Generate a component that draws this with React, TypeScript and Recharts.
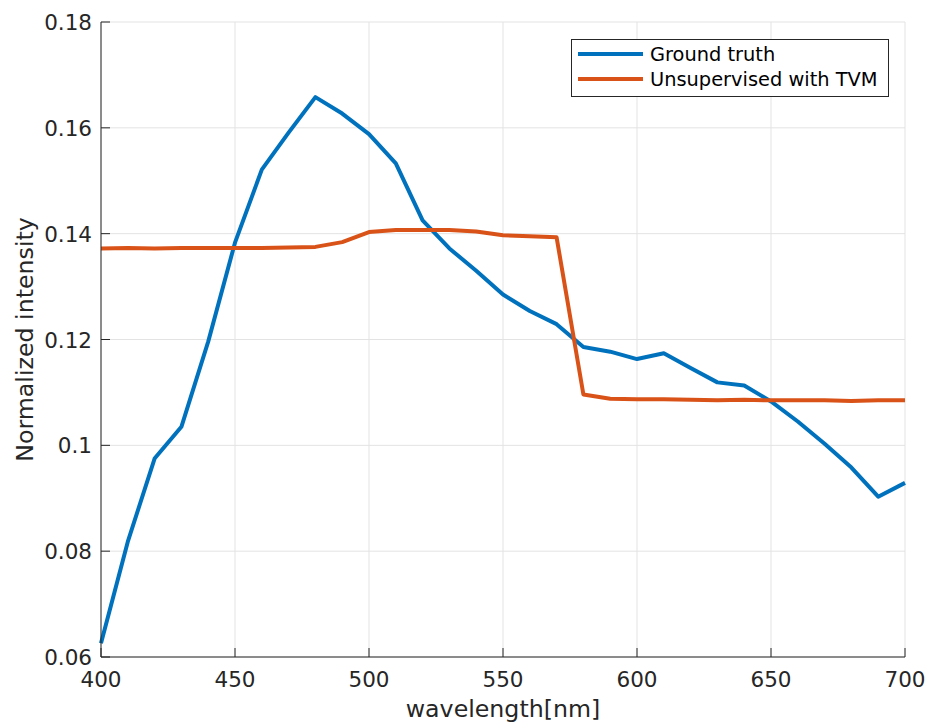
import React from 'react';
import { LineChart, Line, XAxis, YAxis, CartesianGrid, Legend } from 'recharts';

const wavelengths = [400, 410, 420, 430, 440, 450, 460, 470, 480, 490, 500, 510, 520, 530, 540, 550, 560, 570, 580, 590, 600, 610, 620, 630, 640, 650, 660, 670, 680, 690, 700];
const groundTruth = [0.0626, 0.0818, 0.0975, 0.1035, 0.1196, 0.1383, 0.1521, 0.1591, 0.1658, 0.1627, 0.1588, 0.1533, 0.1425, 0.1372, 0.1330, 0.1285, 0.1254, 0.1229, 0.1186, 0.1177, 0.1163, 0.1174, 0.1146, 0.1119, 0.1113, 0.1083, 0.1045, 0.1003, 0.0958, 0.0903, 0.0929];
const unsupervisedTVM = [0.1372, 0.1373, 0.1372, 0.1373, 0.1373, 0.1373, 0.1373, 0.1374, 0.1375, 0.1384, 0.1403, 0.1407, 0.1407, 0.1407, 0.1404, 0.1397, 0.1395, 0.1393, 0.1096, 0.1088, 0.1087, 0.1087, 0.1086, 0.1085, 0.1086, 0.1085, 0.1085, 0.1085, 0.1084, 0.1085, 0.1085];
const xTicks = [400, 450, 500, 550, 600, 650, 700];
const yTicks = [0.06, 0.08, 0.1, 0.12, 0.14, 0.16, 0.18];
const yTickLabels = ['0.06', '0.08', '0.1', '0.12', '0.14', '0.16', '0.18'];
const seriesNames = ['Ground truth', 'Unsupervised with TVM'];

const data = wavelengths.map((w, i) => ({ w, gt: groundTruth[i], tvm: unsupervisedTVM[i] }));

const FONT = 'DejaVu Sans';
const AX = '#262626';
const TICK = 9;

const BottomTick = (props: any) => {
  const { x, y, payload } = props;
  return (
    <g>
      <line x1={x} x2={x} y1={y} y2={y - TICK} stroke={AX} strokeWidth={1} />
      <text x={x} y={y + 30} textAnchor="middle" fontFamily={FONT} fontSize={21.5} fill={AX}>{payload.value}</text>
    </g>
  );
};
const TopTick = (props: any) => {
  const { x, y } = props;
  return <line x1={x} x2={x} y1={y} y2={y + TICK} stroke={AX} strokeWidth={1} />;
};
const LeftTick = (props: any) => {
  const { x, y, payload } = props;
  const idx = yTicks.findIndex((t) => Math.abs(t - payload.value) < 1e-9);
  return (
    <g>
      <line x1={x} x2={x + TICK} y1={y} y2={y} stroke={AX} strokeWidth={1} />
      <text x={x - 9} y={y + 8} textAnchor="end" fontFamily={FONT} fontSize={21.5} fill={AX}>{idx >= 0 ? yTickLabels[idx] : payload.value}</text>
    </g>
  );
};
const RightTick = (props: any) => {
  const { x, y } = props;
  return <line x1={x} x2={x - TICK} y1={y} y2={y} stroke={AX} strokeWidth={1} />;
};

const LegendBox = () => (
  <svg width={318} height={58} style={{ display: 'block' }}>
    <rect x={0.5} y={0.5} width={317} height={57} fill="#fff" stroke={AX} strokeWidth={1} />
    <line x1={7} x2={72} y1={15} y2={15} stroke="#0072BD" strokeWidth={4} />
    <text x={79} y={22} fontFamily={FONT} fontSize={19.4} fill="#000">{seriesNames[0]}</text>
    <line x1={7} x2={72} y1={40} y2={40} stroke="#D95319" strokeWidth={4} />
    <text x={79} y={47} fontFamily={FONT} fontSize={19.4} fill="#000">{seriesNames[1]}</text>
  </svg>
);

export default function App() {
  return (
    <div style={{ position: 'absolute', left: 0, top: 0, width: 933, height: 727, background: '#fff' }}>
      <LineChart width={933} height={727} data={data} margin={{ top: 22, right: 28, bottom: 0, left: 0 }}>
        <CartesianGrid xAxisId="b" yAxisId="l" stroke="#e3e3e3" strokeWidth={1} horizontal vertical />
        <XAxis
          xAxisId="b"
          dataKey="w"
          type="number"
          domain={[400, 700]}
          ticks={xTicks}
          height={70}
          tickSize={0}
          tickMargin={0}
          tickLine={false}
          axisLine={{ stroke: AX, strokeWidth: 1 }}
          tick={<BottomTick />}
          interval={0}
          label={() => (
            <text x={503} y={717} textAnchor="middle" fontFamily={FONT} fontSize={23.7} fill={AX}>wavelength[nm]</text>
          )}
        />
        <XAxis
          xAxisId="t"
          orientation="top"
          dataKey="w"
          type="number"
          domain={[400, 700]}
          ticks={xTicks}
          height={0}
          tickSize={0}
          tickMargin={0}
          tickLine={false}
          axisLine={{ stroke: AX, strokeWidth: 1 }}
          tick={<TopTick />}
          interval={0}
        />
        <YAxis
          yAxisId="l"
          type="number"
          domain={[0.06, 0.18]}
          ticks={yTicks}
          width={101}
          tickSize={0}
          tickMargin={0}
          tickLine={false}
          axisLine={{ stroke: AX, strokeWidth: 1 }}
          tick={<LeftTick />}
          interval={0}
          allowDataOverflow
          label={() => (
            <text x={33} y={339.5} transform="rotate(-90 33 339.5)" textAnchor="middle" fontFamily={FONT} fontSize={23.7} fill={AX}>Normalized intensity</text>
          )}
        />
        <YAxis
          yAxisId="r"
          orientation="right"
          type="number"
          domain={[0.06, 0.18]}
          ticks={yTicks}
          width={0}
          tickSize={0}
          tickMargin={0}
          tickLine={false}
          axisLine={{ stroke: AX, strokeWidth: 1 }}
          tick={<RightTick />}
          interval={0}
          allowDataOverflow
        />
        <Legend
          layout="vertical"
          align="center"
          verticalAlign="middle"
          wrapperStyle={{ position: 'absolute', left: 571, top: 39, width: 318, height: 58 }}
          content={() => <LegendBox />}
        />
        <Line xAxisId="b" yAxisId="l" dataKey="gt" name={seriesNames[0]} stroke="#0072BD" strokeWidth={4} dot={false} isAnimationActive={false} strokeLinejoin="round" />
        <Line xAxisId="b" yAxisId="l" dataKey="tvm" name={seriesNames[1]} stroke="#D95319" strokeWidth={4} dot={false} isAnimationActive={false} strokeLinejoin="round" />
      </LineChart>
    </div>
  );
}
